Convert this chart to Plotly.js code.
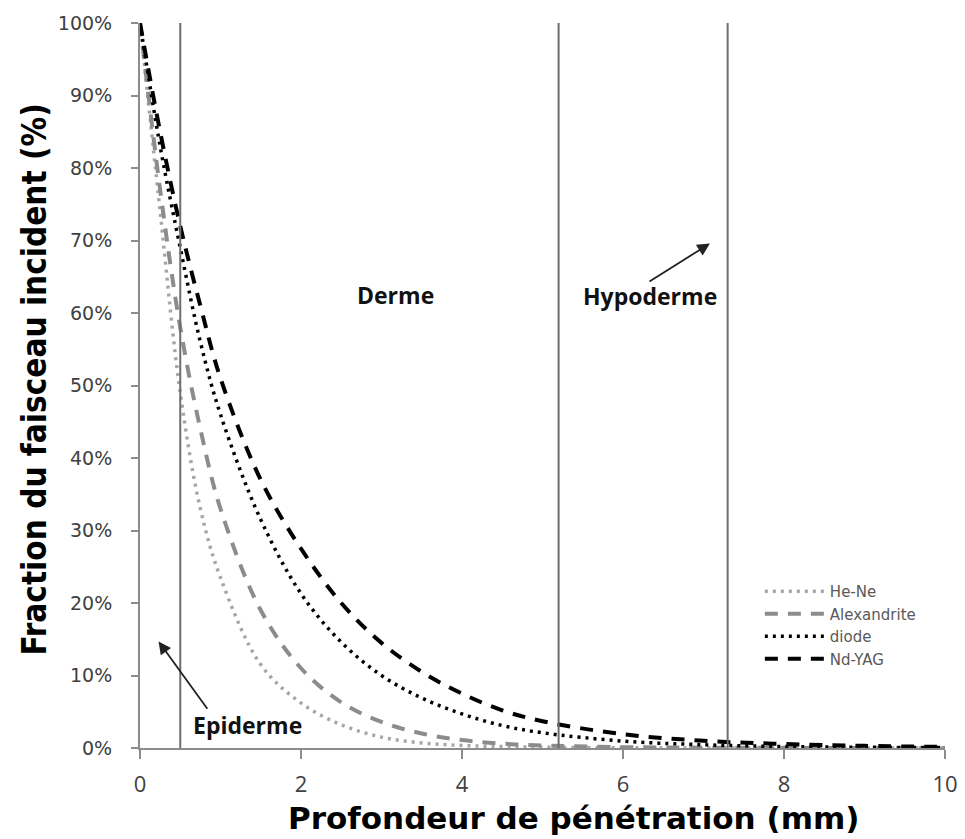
<!DOCTYPE html>
<html>
<head>
<meta charset="utf-8">
<script src="https://cdn.plot.ly/plotly-3.0.1.min.js"></script>
<style>html,body{margin:0;padding:0;background:#fff;}#chart{width:965px;height:839px;}</style>
</head>
<body>
<div id="chart"></div>
<script>
// Depth (mm) sample points
const depth = [0, 0.25, 0.5, 0.75, 1, 1.5, 2, 2.5, 3, 3.5, 4, 4.5, 5, 6, 7, 8, 9, 10];
// Fraction of incident beam (%)
const heNe        = [100, 74, 49, 33, 23.5, 11.5, 6.2, 3.2, 1.5, 0.7, 0.35, 0.2, 0.1, 0.03, 0.01, 0, 0, 0];
const alexandrite = [100, 77, 58, 44, 33, 19, 11, 6.3, 3.6, 2.0, 1.1, 0.6, 0.35, 0.12, 0.05, 0.02, 0.01, 0];
const diode       = [100, 83, 69, 56, 46, 31.5, 21.3, 14.6, 10, 6.9, 4.7, 3.1, 2.1, 0.95, 0.45, 0.2, 0.1, 0.05];
const ndYag       = [100, 85, 72, 61, 51, 37, 27.5, 20, 14.5, 10.5, 7.5, 5.2, 3.7, 1.9, 1.0, 0.55, 0.3, 0.15];
const seriesNames = ["He-Ne", "Alexandrite", "diode", "Nd-YAG"];
// Layer boundaries (mm)
const boundaries = [0.5, 5.2, 7.3];
const xTicks = [0, 2, 4, 6, 8, 10];
const yTicks = [0, 10, 20, 30, 40, 50, 60, 70, 80, 90, 100];
const yTickText = yTicks.map(v => v + "%");
const layerLabels = [
  {text: "Derme", x: 3.17, y: 62.5},
  {text: "Hypoderme", x: 6.34, y: 62.3},
  {text: "Epiderme", x: 1.33, y: 3.2}
];
const xTitle = "Profondeur de pénétration (mm)";
const yTitle = "Fraction du faisceau incident (%)";

const font = "Open Sans, DejaVu Sans, sans-serif";

const traces = [
  {x: depth, y: heNe, name: seriesNames[0], mode: "lines",
   line: {color: "#a6a6a6", width: 3.5, dash: "3px,5px", shape: "spline"}},
  {x: depth, y: alexandrite, name: seriesNames[1], mode: "lines",
   line: {color: "#8c8c8c", width: 4, dash: "13px,10px", shape: "spline"}},
  {x: depth, y: diode, name: seriesNames[2], mode: "lines",
   line: {color: "#000000", width: 3.5, dash: "3px,5px", shape: "spline"}},
  {x: depth, y: ndYag, name: seriesNames[3], mode: "lines",
   line: {color: "#000000", width: 4, dash: "13px,10px", shape: "spline"}}
];

const shapes = boundaries.map(b => ({
  type: "line", xref: "x", yref: "y", x0: b, x1: b, y0: 0, y1: 100,
  line: {color: "#6e6e6e", width: 2}
}));

const annotations = layerLabels.map(l => ({
  text: "<b>" + l.text + "</b>", x: l.x, y: l.y, xref: "x", yref: "y",
  showarrow: false, font: {family: font, size: 23, color: "#111"}
}));
annotations.push({
  text: "", x: 0.23, y: 14.7, ax: 0.85, ay: 5.2, axref: "x", ayref: "y",
  xref: "x", yref: "y", showarrow: true, arrowhead: 2, arrowsize: 1.4, arrowwidth: 1.8, arrowcolor: "#222"
});
annotations.push({
  text: "", x: 7.08, y: 69.6, ax: 6.31, ay: 64.2, axref: "x", ayref: "y",
  xref: "x", yref: "y", showarrow: true, arrowhead: 2, arrowsize: 1.4, arrowwidth: 1.8, arrowcolor: "#222"
});
// axis titles
annotations.push({
  text: "<b>" + xTitle + "</b>", xref: "paper", yref: "paper", x: 0.539, y: -0.1241, xanchor: "center", yanchor: "bottom",
  showarrow: false, font: {family: "DejaVu Sans, sans-serif", size: 31, color: "#000"}
});
annotations.push({
  text: "<b>" + yTitle + "</b>", xref: "paper", yref: "paper", x: -0.131, y: 0.5076, xanchor: "center", yanchor: "middle",
  textangle: -90, showarrow: false, font: {family: "DejaVu Sans Condensed, DejaVu Sans, sans-serif", size: 33, color: "#000"}
});

const layout = {
  width: 965, height: 839,
  margin: {l: 140, r: 20, t: 23, b: 91},
  paper_bgcolor: "#fff", plot_bgcolor: "#fff",
  showlegend: true,
  legend: {x: 0.770, y: 0.2386, xanchor: "left", yanchor: "top",
    font: {family: "DejaVu Sans, sans-serif", size: 15, color: "#595959"}, bgcolor: "rgba(0,0,0,0)",
    itemwidth: 60, tracegroupgap: 0},
  xaxis: {
    range: [0, 10], tickvals: xTicks, ticktext: xTicks.map(String),
    showgrid: false, zeroline: false, showline: true, linecolor: "#8c8c8c", linewidth: 2,
    ticks: "outside", ticklen: 9, tickcolor: "#8c8c8c", tickwidth: 1.5, ticklabelstandoff: 7,
    tickfont: {family: font, size: 22, color: "#404040"}
  },
  yaxis: {
    range: [0, 100], tickvals: yTicks, ticktext: yTickText,
    showgrid: false, zeroline: false, showline: true, linecolor: "#8c8c8c", linewidth: 2,
    ticks: "outside", ticklen: 7, tickcolor: "#8c8c8c", tickwidth: 1.5, ticklabelstandoff: 15,
    tickfont: {family: "DejaVu Sans, sans-serif", size: 19, color: "#404040"}
  },
  shapes: shapes,
  annotations: annotations
};

Plotly.newPlot("chart", traces, layout, {displayModeBar: false, responsive: false});
</script>
</body>
</html>
